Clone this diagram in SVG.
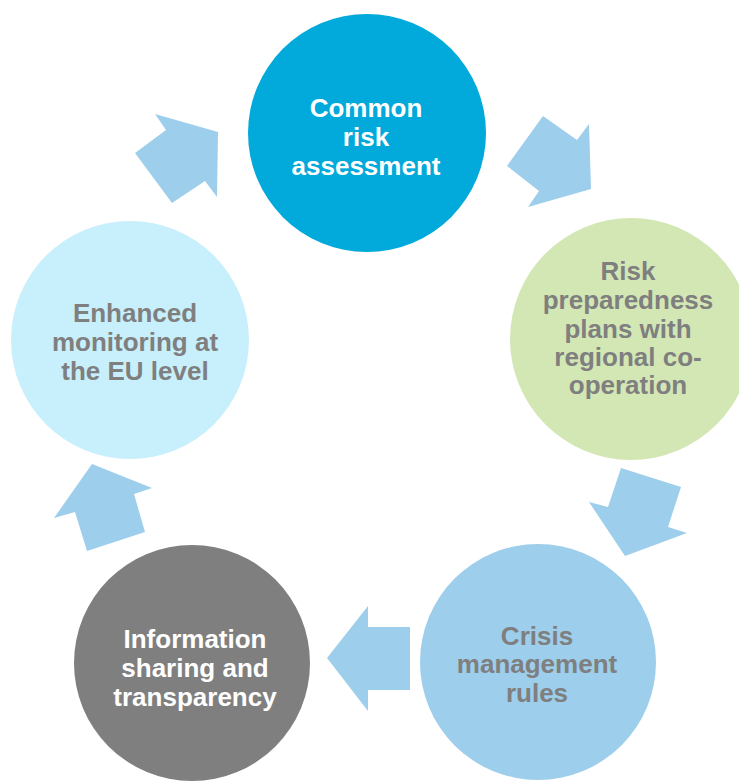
<svg xmlns="http://www.w3.org/2000/svg" width="739" height="783" viewBox="0 0 739 783">
<style>
.lbl{font-family:"Liberation Sans",Arial,sans-serif;font-weight:bold;font-size:26px;text-anchor:middle}
.w{fill:#FFFFFF}
.g{fill:#7F7F7F}
.arr{fill:#9DCEEB}
</style>
<rect width="739" height="783" fill="#FFFFFF"/>
<g id="connectors">
<polygon class="arr" points="155,114 218,132 217,197 205,181 172,203 135,153 166,130"/>
<polygon class="arr" points="543,116 577,140 589,124 591,189 528,207 539,191 507,166"/>
<polygon class="arr" points="621,468 681,487 668,527 687,533 625,556 589,502 608,507"/>
<polygon class="arr" points="368,606 368,627 410,627 410,690 368,690 368,711 327,658"/>
<polygon class="arr" points="92,464 152,488 134,494 145,532 87,551 75,512 54,518"/>
</g>
<g id="node-common-risk">
<circle cx="367" cy="133" r="119" fill="#02A9DB"/>
<text class="lbl w" x="366" y="117">Common</text>
<text class="lbl w" x="366" y="146">risk</text>
<text class="lbl w" x="366" y="175">assessment</text>
</g>
<g id="node-risk-preparedness">
<circle cx="631" cy="339" r="121" fill="#D3E7B5"/>
<text class="lbl g" x="628" y="280">Risk</text>
<text class="lbl g" x="628" y="309">preparedness</text>
<text class="lbl g" x="628" y="338">plans with</text>
<text class="lbl g" x="628" y="366">regional co-</text>
<text class="lbl g" x="628" y="394">operation</text>
</g>
<g id="node-crisis">
<circle cx="538" cy="662" r="118" fill="#9DCEEB"/>
<text class="lbl g" x="537" y="645">Crisis</text>
<text class="lbl g" x="537" y="673">management</text>
<text class="lbl g" x="537" y="702">rules</text>
</g>
<g id="node-information">
<circle cx="192" cy="663" r="118" fill="#7F7F7F"/>
<text class="lbl w" x="195" y="648">Information</text>
<text class="lbl w" x="195" y="677">sharing and</text>
<text class="lbl w" x="195" y="706">transparency</text>
</g>
<g id="node-enhanced">
<circle cx="130" cy="340" r="119" fill="#C8EFFC"/>
<text class="lbl g" x="135" y="322">Enhanced</text>
<text class="lbl g" x="135" y="351">monitoring at</text>
<text class="lbl g" x="135" y="380">the EU level</text>
</g>
</svg>
